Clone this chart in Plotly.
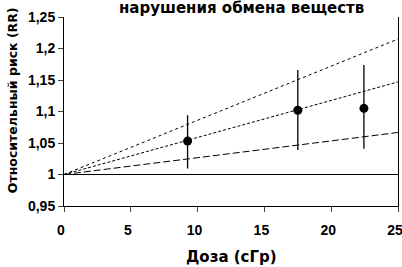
import plotly.graph_objects as go

# Observed points
dose = [9.25, 17.5, 22.45]
rr = [1.053, 1.102, 1.105]
rr_hi = [1.094, 1.166, 1.174]
rr_lo = [1.0095, 1.039, 1.041]

# Fitted lines (endpoints)
fit_dose = [0, 25]
fit_upper = [1.0, 1.215]
fit_mid = [1.0, 1.147]
fit_low = [1.0, 1.0667]
baseline = [1.0, 1.0]

x_ticks = [0, 5, 10, 15, 20, 25]
y_ticks = [0.95, 1.0, 1.05, 1.1, 1.15, 1.2, 1.25]
y_ticktext = ["0,95", "1", "1,05", "1,1", "1,15", "1,2", "1,25"]

FONT = "Liberation Sans, Arial, sans-serif"
TFONT = "DejaVu Sans, sans-serif"

fig = go.Figure()
fig.add_trace(go.Scatter(x=fit_dose, y=baseline, mode="lines",
                         line=dict(color="black", width=1.2), hoverinfo="skip"))
fig.add_trace(go.Scatter(x=fit_dose, y=fit_upper, mode="lines",
                         line=dict(color="black", width=1, dash="dot"), hoverinfo="skip"))
fig.add_trace(go.Scatter(x=fit_dose, y=fit_mid, mode="lines",
                         line=dict(color="black", width=1, dash="3px,2px"), hoverinfo="skip"))
fig.add_trace(go.Scatter(x=fit_dose, y=fit_low, mode="lines",
                         line=dict(color="black", width=1, dash="7px,3px"), hoverinfo="skip"))
fig.add_trace(go.Scatter(
    x=dose, y=rr, mode="markers",
    marker=dict(color="black", size=9),
    error_y=dict(type="data", symmetric=False,
                 array=[h - v for h, v in zip(rr_hi, rr)],
                 arrayminus=[v - l for v, l in zip(rr, rr_lo)],
                 color="black", thickness=1.3, width=0),
))

fig.update_layout(
    width=402, height=267,
    margin=dict(l=64, r=4, t=17, b=61),
    plot_bgcolor="white", paper_bgcolor="white",
    showlegend=False,
    font=dict(family=FONT, color="black"),
    annotations=[
        dict(text="нарушения обмена веществ", xref="paper", yref="paper",
             x=0.53, y=1.0, yshift=-2, xanchor="center", yanchor="bottom",
             showarrow=False, font=dict(size=15, weight="bold", family=TFONT)),
        dict(text="Доза (сГр)", xref="paper", yref="paper",
             x=0.5, y=0, yshift=-51, xanchor="center", yanchor="middle",
             showarrow=False, font=dict(size=15, weight="bold", family=TFONT)),
        dict(text="Относительный риск (RR)", xref="paper", yref="paper",
             x=0, xshift=-52, y=0.56, xanchor="center", yanchor="middle",
             textangle=-90, showarrow=False,
             font=dict(size=12.5, weight="bold", family=TFONT)),
    ],
)
fig.update_xaxes(
    range=[0, 25], tickvals=x_ticks, ticks="outside", ticklen=5, tickwidth=1,
    showline=True, linecolor="black", linewidth=1, showgrid=False, zeroline=False,
    automargin=False, ticklabeloverflow="allow", ticklabelshift=-3, ticklabelstandoff=6,
    tickfont=dict(size=14, weight="bold", family=FONT),
)
fig.update_yaxes(
    range=[0.95, 1.25], tickvals=y_ticks, ticktext=y_ticktext,
    ticks="outside", ticklen=5, tickwidth=1,
    showline=True, mirror=True, linecolor="black", linewidth=1,
    showgrid=False, zeroline=False, automargin=False, ticklabeloverflow="allow",
    tickfont=dict(size=14, weight="bold", family=FONT),
)

fig.write_html("out.html", post_script="document.body.style.margin='0';",
               config={"displayModeBar": False})
